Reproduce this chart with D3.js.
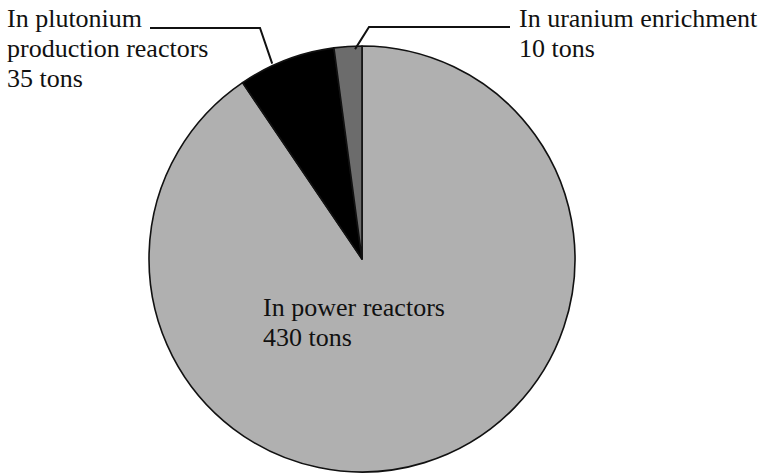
<!DOCTYPE html>
<html>
<head>
<meta charset="utf-8">
<script src="https://cdn.jsdelivr.net/npm/d3@7"></script>
<style>
  body { margin: 0; background: #fff; }
</style>
</head>
<body>
<svg width="761" height="475"></svg>
<script>
var categories = ['In power reactors', 'In plutonium production reactors', 'In uranium enrichment'];
var values = [430, 35, 10];
var colors = ['#b0b0b0', '#000000', '#6c6c6c'];

var cx = 362, cy = 259, radius = 213;
var svg = d3.select('svg');

var pie = d3.pie().sort(null).value(function(d) { return d; });
var arcs = pie(values);
var arc = d3.arc().innerRadius(0).outerRadius(radius);

var g = svg.append('g').attr('transform', 'translate(' + cx + ',' + cy + ')');

g.selectAll('path')
  .data(arcs)
  .enter()
  .append('path')
  .attr('d', arc)
  .attr('fill', function(d, i) { return colors[i]; })
  .attr('stroke', '#111')
  .attr('stroke-width', 1.6)
  .attr('stroke-linejoin', 'round');

// point inside a slice: f is how far along the slice's angle, r the distance from centre
function slicePoint(d, f, r) {
  var a = d.startAngle + f * (d.endAngle - d.startAngle);
  return [r * Math.sin(a), -r * Math.cos(a)];
}

// leader lines: horizontal run from the label, then down to the slice
var leaders = [
  { i: 1, x0: 150 - cx, x1: 260 - cx, y: 28 - cy, f: 0.355, r: radius + 2 },
  { i: 2, x0: 510 - cx, x1: 369 - cx, y: 27 - cy, f: 0.75, r: radius - 3 }
];
leaders.forEach(function(l) {
  var p = slicePoint(arcs[l.i], l.f, l.r);
  g.append('path')
    .attr('d', d3.line()([[l.x0, l.y], [l.x1, l.y], p]))
    .attr('fill', 'none')
    .attr('stroke', '#111')
    .attr('stroke-width', 2);
});

// labels, one text element per line
function label(x, y, lines) {
  svg.selectAll(null)
    .data(lines)
    .enter()
    .append('text')
    .attr('x', x)
    .attr('y', function(s, k) { return y + k * 30; })
    .attr('font-family', 'Liberation Serif')
    .attr('font-size', 26)
    .attr('fill', '#111')
    .text(function(s) { return s; });
}
label(7, 27, ['In plutonium', 'production reactors', values[1] + ' tons']);
label(519, 27, [categories[2], values[2] + ' tons']);
label(263, 316, [categories[0], values[0] + ' tons']);
</script>
</body>
</html>
